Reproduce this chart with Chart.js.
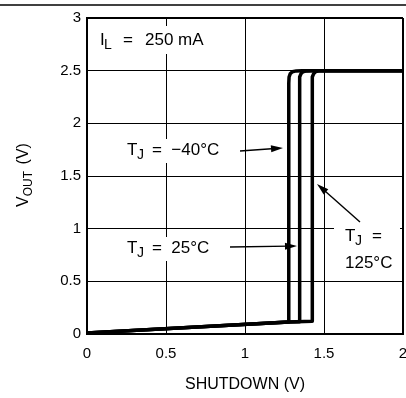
<!DOCTYPE html>
<html>
<head>
<meta charset="utf-8">
<script src="https://cdn.jsdelivr.net/npm/chart.js@4/dist/chart.umd.min.js"></script>
<style>
html, body { margin: 0; padding: 0; background: #fff; }
</style>
</head>
<body>
<canvas id="myChart" width="406" height="398"></canvas>
<script>
var xTicks = [0, 0.5, 1, 1.5, 2];
var xTickLabels = ['0', '0.5', '1', '1.5', '2'];
var yTicks = [0, 0.5, 1, 1.5, 2, 2.5, 3];
var yTickLabels = ['0', '0.5', '1', '1.5', '2', '2.5', '3'];

// shutdown voltage vs output voltage, one curve per junction temperature
var xM40 = [0, 1.277, 1.277, 1.279, 1.286, 1.300, 1.325, 1.36, 2];
var yM40 = [0.01, 0.115, 2.38, 2.44, 2.47, 2.49, 2.498, 2.5, 2.5];
var x25 = [0, 1.277, 1.345, 1.345, 1.347, 1.354, 1.367, 1.39, 1.42, 2];
var y25 = [0.01, 0.115, 0.117, 2.38, 2.44, 2.47, 2.49, 2.498, 2.5, 2.5];
var x125 = [0, 1.277, 1.425, 1.425, 1.427, 1.434, 1.446, 1.465, 1.49, 2];
var y125 = [0.01, 0.115, 0.12, 2.38, 2.44, 2.47, 2.49, 2.498, 2.5, 2.5];

var FONT = "'Liberation Sans', Arial, sans-serif";

function pts(xs, ys) {
    var out = [];
    for (var i = 0; i < xs.length; i++) {
        out.push({x: xs[i], y: ys[i]});
    }
    return out;
}

function arrow(ctx, x1, y1, x2, y2) {
    var a = Math.atan2(y2 - y1, x2 - x1);
    ctx.beginPath();
    ctx.moveTo(x1, y1);
    ctx.lineTo(x2 - 8 * Math.cos(a), y2 - 8 * Math.sin(a));
    ctx.lineWidth = 1.4;
    ctx.stroke();
    ctx.beginPath();
    ctx.moveTo(x2, y2);
    ctx.lineTo(x2 - 12 * Math.cos(a) + 3.5 * Math.sin(a), y2 - 12 * Math.sin(a) - 3.5 * Math.cos(a));
    ctx.lineTo(x2 - 12 * Math.cos(a) - 3.5 * Math.sin(a), y2 - 12 * Math.sin(a) + 3.5 * Math.cos(a));
    ctx.closePath();
    ctx.fill();
}

function tj(ctx, x, y, rest, restX) {
    ctx.font = '17px ' + FONT;
    ctx.fillText('T', x, y);
    ctx.font = '14px ' + FONT;
    ctx.fillText('J', x + 10, y + 4);
    ctx.font = '17px ' + FONT;
    ctx.fillText(rest, restX, y);
}

var decor = {
    id: 'decor',
    afterDatasetsDraw: function(chart) {
        var ctx = chart.ctx;
        ctx.save();
        ctx.fillStyle = '#000';
        ctx.strokeStyle = '#000';

        // rule across the top of the page
        ctx.lineWidth = 1.5;
        ctx.beginPath();
        ctx.moveTo(0, 5);
        ctx.lineTo(406, 5);
        ctx.stroke();

        // white patches behind the notes
        ctx.fillStyle = '#fff';
        ctx.fillRect(95, 26, 115, 28);
        ctx.fillRect(120, 139, 112, 24);
        ctx.fillRect(120, 237, 100, 24);
        ctx.fillRect(334, 223, 66, 52);
        ctx.fillStyle = '#000';

        ctx.textBaseline = 'alphabetic';
        ctx.textAlign = 'left';
        ctx.font = '17px ' + FONT;
        ctx.fillText('I', 100, 45);
        ctx.font = '14px ' + FONT;
        ctx.fillText('L', 104, 49);
        ctx.font = '17px ' + FONT;
        ctx.fillText('=', 123, 45);
        ctx.fillText('250 mA', 145, 45);

        tj(ctx, 127, 155, '=  \u221240\u00b0C', 152);
        arrow(ctx, 240, 151, 283, 148);
        tj(ctx, 127, 253, '=  25\u00b0C', 152);
        arrow(ctx, 230, 247, 297, 246);
        tj(ctx, 345, 241, '=', 372);
        ctx.fillText('125\u00b0C', 345, 268);
        arrow(ctx, 360, 222, 317, 184);

        // axis titles
        ctx.font = '16px ' + FONT;
        ctx.textAlign = 'center';
        ctx.fillText('SHUTDOWN (V)', 245, 389);

        ctx.translate(28, 176);
        ctx.rotate(-Math.PI / 2);
        ctx.textAlign = 'left';
        ctx.font = '16px ' + FONT;
        var w1 = ctx.measureText('V').width;
        var w3 = ctx.measureText(' (V)').width;
        ctx.font = '12px ' + FONT;
        var w2 = ctx.measureText('OUT').width;
        var x0 = -(w1 + w2 + w3) / 2;
        ctx.font = '16px ' + FONT;
        ctx.fillText('V', x0, 0);
        ctx.font = '12px ' + FONT;
        ctx.fillText('OUT', x0 + w1, 4);
        ctx.font = '16px ' + FONT;
        ctx.fillText(' (V)', x0 + w1 + w2 + 2, 0);
        ctx.restore();
    }
};

function lineSet(label, xs, ys) {
    return {
        label: label,
        data: pts(xs, ys),
        borderColor: '#000',
        borderWidth: 3.5,
        pointRadius: 0,
        fill: false,
        tension: 0,
        borderJoinStyle: 'round'
    };
}

var ctx = document.getElementById('myChart').getContext('2d');
var myChart = new Chart(ctx, {
    type: 'line',
    data: {
        datasets: [
            lineSet('TJ = -40C', xM40, yM40),
            lineSet('TJ = 25C', x25, y25),
            lineSet('TJ = 125C', x125, y125)
        ]
    },
    options: {
        responsive: false,
        animation: false,
        layout: { padding: { top: 18, right: 3, left: 0, bottom: 0 } },
        plugins: { legend: { display: false }, tooltip: { enabled: false } },
        scales: {
            x: {
                type: 'linear',
                min: 0,
                max: 2,
                afterBuildTicks: function(s) { s.ticks = xTicks.map(function(v) { return {value: v}; }); },
                afterFit: function(s) { s.height = 64; s.paddingLeft = 0; s.paddingRight = 0; },
                ticks: {
                    color: '#000', padding: 11, maxRotation: 0, font: { family: FONT, size: 15 },
                    callback: function(v, i) { return xTickLabels[i]; }
                },
                grid: {
                    color: '#000',
                    drawTicks: false,
                    lineWidth: function(c) { return c.tick && c.tick.value === 2 ? 2 : 1; }
                },
                border: { color: '#000', width: 2 }
            },
            y: {
                type: 'linear',
                min: 0,
                max: 3,
                afterBuildTicks: function(s) { s.ticks = yTicks.map(function(v) { return {value: v}; }); },
                afterFit: function(s) { s.width = 87; s.paddingTop = 0; s.paddingBottom = 0; },
                ticks: {
                    color: '#000', padding: 6, font: { family: FONT, size: 15 },
                    callback: function(v, i) { return yTickLabels[i]; }
                },
                grid: {
                    color: '#000',
                    drawTicks: false,
                    lineWidth: function(c) { return c.tick && c.tick.value === 3 ? 2 : 1; }
                },
                border: { color: '#000', width: 2 }
            }
        }
    },
    plugins: [decor]
});
</script>
</body>
</html>
